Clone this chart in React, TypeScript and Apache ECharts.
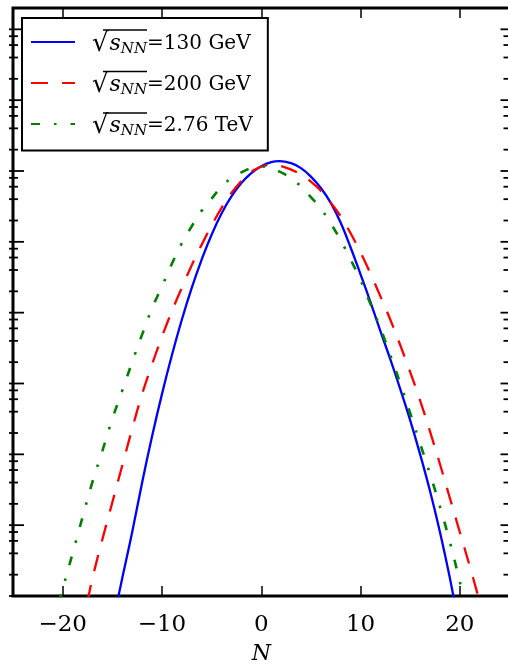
import React, { useEffect, useRef } from "react";
import * as echarts from "echarts";

// Multiplicity distributions P(N) for three collision energies
const ENERGY_LABELS = ["130 GeV", "200 GeV", "2.76 TeV"];

const N_130 = [-14.5, -14, -13, -12, -11, -10, -9, -8, -7, -6, -5, -4, -3, -2, -1, 0, 1, 1.8, 3, 4, 5, 6, 7, 8, 9, 10, 11, 12, 13, 14, 15, 16, 17, 18, 19, 19.5];
const P_130 = [8.32e-8, 1.78e-7, 7.94e-7, 3.98e-6, 1.78e-5, 7.08e-5, 2.51e-4, 7.94e-4, 2.24e-3, 5.62e-3, 1.26e-2, 2.51e-2, 4.37e-2, 6.76e-2, 9.33e-2, 0.117, 0.1334, 0.1377, 0.1288, 0.1096, 0.0832, 0.0575, 0.0355, 0.0186, 8.32e-3, 3.47e-3, 1.41e-3, 5.5e-4, 2.19e-4, 8.32e-5, 3.02e-5, 1.0e-5, 3.02e-6, 7.94e-7, 1.78e-7, 7.59e-8];

const N_200 = [-17.5, -17, -16, -15, -14, -13, -12, -11, -10, -9, -8, -7, -6, -5, -4, -3, -2, -1, 0, 1, 2, 3, 4, 5, 6, 7, 8, 9, 10, 11, 12, 13, 14, 15, 16, 17, 18, 19, 20, 21, 22];
const P_200 = [8.32e-8, 1.78e-7, 6.31e-7, 2.09e-6, 6.92e-6, 2.29e-5, 7.08e-5, 1.86e-4, 4.57e-4, 1.05e-3, 2.24e-3, 4.68e-3, 9.12e-3, 1.7e-2, 3.02e-2, 4.9e-2, 7.24e-2, 9.77e-2, 0.1148, 0.1216, 0.1175, 0.1047, 0.0891, 0.0708, 0.0525, 0.0355, 0.0229, 0.0132, 7.08e-3, 3.55e-3, 1.7e-3, 7.94e-4, 3.47e-4, 1.45e-4, 5.75e-5, 2.09e-5, 7.24e-6, 2.4e-6, 7.94e-7, 2.63e-7, 8.32e-8];

const N_2760 = [-20.4, -20, -19, -18, -17, -16, -15, -14, -13, -12, -11, -10, -9, -8, -7, -6, -5, -4, -3, -2, -1, 0, 1, 2, 3, 4, 5, 6, 7, 8, 9, 10, 11, 12, 13, 14, 15, 16, 17, 18, 19, 20, 20.4];
const P_2760 = [7.94e-8, 1.26e-7, 3.98e-7, 1.29e-6, 4.07e-6, 1.12e-5, 3.16e-5, 7.94e-5, 2.0e-4, 4.9e-4, 1.15e-3, 2.34e-3, 4.9e-3, 9.55e-3, 1.66e-2, 2.75e-2, 4.07e-2, 6.03e-2, 7.94e-2, 9.55e-2, 0.1096, 0.1161, 0.1084, 0.0955, 0.0794, 0.0603, 0.0427, 0.0295, 0.0182, 0.0105, 5.62e-3, 2.88e-3, 1.32e-3, 6.03e-4, 2.51e-4, 1.0e-4, 3.8e-5, 1.41e-5, 5.25e-6, 1.82e-6, 5.75e-7, 1.58e-7, 8.91e-8];

// Axis ticks
const X_TICKS = [-20, -10, 0, 10, 20];
const Y_MAJOR_TICKS = [1e-7, 1e-6, 1e-5, 1e-4, 1e-3, 1e-2, 1e-1, 1, 10];
const Y_MINOR_SUBS = [2, 4, 6, 8];

const X_MIN = -25;
const X_MAX = 25;
const Y_MIN = 1e-7;
const Y_MAX = 20;

const SERIF = "'DejaVu Serif', serif";

const pairs = (xs: number[], ys: number[]) => xs.map((x, i) => [x, ys[i]]);

export default function App() {
  const ref = useRef<HTMLDivElement>(null);

  useEffect(() => {
    if (!ref.current) return;
    const chart = echarts.init(ref.current, undefined, { renderer: "svg" });

    const minorTicks: number[] = [];
    Y_MAJOR_TICKS.forEach((d) => {
      Y_MINOR_SUBS.forEach((s) => {
        const v = (d / 10) * s;
        if (v > Y_MIN && v < Y_MAX) minorTicks.push(v);
      });
    });
    const tickData = [
      ...Y_MAJOR_TICKS.map((v) => [0, v, 1]),
      ...minorTicks.map((v) => [0, v, 0]),
    ];

    const names = ENERGY_LABELS.map((l) => `√sNN=${l}`);

    const fmtX = (v: number) => (v < 0 ? "\u2212" + Math.abs(v) : String(v));

    // vinculum over s_NN in each legend row
    const rowTop = [30, 71.5, 113];
    const overbars = rowTop.map((y) => ({
      type: "line",
      z: 20,
      silent: true,
      shape: { x1: 103, y1: y, x2: 147, y2: y },
      style: { stroke: "#000", lineWidth: 1.3 },
    }));

    chart.setOption({
      animation: false,
      grid: {
        left: 13,
        right: -1.5,
        top: 8,
        bottom: 72,
        outerBoundsMode: "none",
        containLabel: false,
        show: true,
        borderColor: "#000",
        borderWidth: 3,
        backgroundColor: "transparent",
      },
      xAxis: [
        {
          type: "value",
          min: X_MIN,
          max: X_MAX,
          name: "N",
          nameLocation: "middle",
          nameGap: 46,
          nameTextStyle: { fontFamily: SERIF, fontStyle: "italic", fontSize: 22, lineHeight: 20, color: "#000" },
          axisLine: { show: false },
          splitLine: { show: false },
          axisTick: { inside: true, length: 10, customValues: X_TICKS, lineStyle: { color: "#000", width: 1.5 } },
          axisLabel: {
            customValues: X_TICKS,
            formatter: fmtX,
            fontFamily: SERIF,
            fontSize: 23,
            color: "#000",
            margin: 15,
          },
        },
        {
          type: "value",
          position: "top",
          min: X_MIN,
          max: X_MAX,
          axisLine: { show: false },
          splitLine: { show: false },
          axisTick: { inside: true, length: 10, customValues: X_TICKS, lineStyle: { color: "#000", width: 1.5 } },
          axisLabel: { show: false },
        },
      ],
      yAxis: {
        type: "log",
        logBase: 10,
        min: Y_MIN,
        max: Y_MAX,
        axisLine: { show: false },
        axisTick: { show: false },
        axisLabel: { show: false },
        splitLine: { show: false },
      },
      legend: {
        orient: "vertical",
        left: 22,
        top: 18,
        data: names,
        backgroundColor: "#fff",
        borderColor: "#000",
        borderWidth: 2,
        padding: [11, 15, 13, 8],
        itemGap: 14.5,
        itemWidth: 44,
        itemHeight: 14,
        itemStyle: { opacity: 0 },
        z: 10,
        formatter: (name: string) => {
          const i = names.indexOf(name);
          return `{sq|√}{s|s}{nn|NN}{eq|=${ENERGY_LABELS[i]}}`;
        },
        textStyle: {
          color: "#000",
          rich: {
            sq: { fontFamily: SERIF, fontSize: 26, color: "#000", padding: [0, 1, 0, 12], lineHeight: 27 },
            s: { fontFamily: SERIF, fontStyle: "italic", fontSize: 22, color: "#000", lineHeight: 27 },
            nn: { fontFamily: SERIF, fontStyle: "italic", fontSize: 15, color: "#000", verticalAlign: "bottom", lineHeight: 20 },
            eq: { fontFamily: SERIF, fontSize: 20, color: "#000", lineHeight: 27 },
          },
        },
      },
      graphic: overbars,
      series: [
        {
          name: names[0],
          type: "line",
          data: pairs(N_130, P_130),
          symbol: "none",
          smooth: 0.4,
          lineStyle: { color: "#0000ff", width: 2.3 },
          itemStyle: { color: "#0000ff" },
          z: 3,
        },
        {
          name: names[1],
          type: "line",
          data: pairs(N_200, P_200),
          symbol: "none",
          smooth: 0.4,
          lineStyle: { color: "#ff0000", width: 2.3, type: [17, 14] },
          itemStyle: { color: "#ff0000" },
          z: 3,
        },
        {
          name: names[2],
          type: "line",
          data: pairs(N_2760, P_2760),
          symbol: "none",
          smooth: 0.4,
          lineStyle: { color: "#008000", width: 2.6, type: [9, 14, 2.5, 14] },
          itemStyle: { color: "#008000" },
          z: 3,
        },
        {
          // log-axis tick marks on the left and right frame edges
          type: "custom",
          silent: true,
          z: 4,
          data: tickData,
          renderItem: (params: any, api: any) => {
            const v = api.value(1);
            const major = api.value(2) === 1;
            const y = api.coord([0, v])[1];
            const cs = params.coordSys;
            const style = { stroke: "#000", lineWidth: 1.8 };
            const rx = cs.x + cs.width;
            return {
              type: "group",
              children: [
                { type: "line", shape: { x1: cs.x - 4, y1: y, x2: cs.x + (major ? 11 : 5), y2: y }, style },
                { type: "line", shape: { x1: rx - (major ? 9 : 6), y1: y, x2: rx + 4, y2: y }, style },
              ],
            };
          },
        },
      ],
    });

    return () => chart.dispose();
  }, []);

  return <div ref={ref} style={{ position: "fixed", left: 0, top: 0, width: 508, height: 668 }} />;
}
